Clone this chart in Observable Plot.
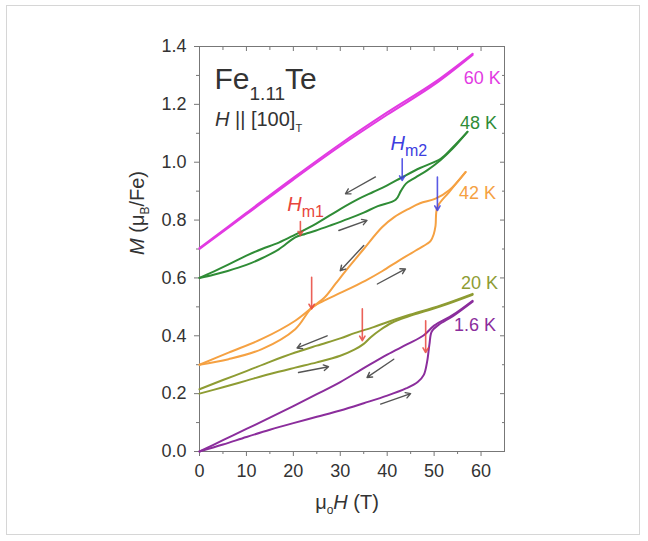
<!DOCTYPE html>
<html><head><meta charset="utf-8">
<script src="https://cdn.jsdelivr.net/npm/d3@7"></script>
<script src="https://cdn.jsdelivr.net/npm/@observablehq/plot@0.6"></script>
<style>
html,body{margin:0;padding:0;background:#fff;}
#wrap{position:relative;width:648px;height:541px;overflow:hidden;}
#wrap svg{position:absolute;left:0;top:0;}
#border{position:absolute;left:6px;top:5px;width:634px;height:530px;border:1px solid #d6d6d6;box-sizing:border-box;pointer-events:none;}
</style></head><body><div id="wrap"><div id="border"></div></div>
<script>
// ---- data ----
const temps = ["60 K", "48 K", "42 K", "20 K", "1.6 K"];
const colors = ["#e23ae2", "#2f8c36", "#f5a142", "#8e9c33", "#8b2d9c"];

const H60_up = [0, 10, 20, 30, 40, 50, 58.2];
const M60_up = [0.700, 0.820, 0.940, 1.056, 1.164, 1.268, 1.371];
const H60_dn = [58.2, 50, 40, 30, 20, 10, 0];
const M60_dn = [1.375, 1.275, 1.172, 1.063, 0.946, 0.825, 0.703];

const H48_up = [0, 3, 6, 10, 13.3, 16.9, 20.4, 22.5, 24.7, 28, 31.8, 35, 38, 41.8, 42.9, 44.0, 46, 48.5, 51.4, 54, 57.1];
const M48_up = [0.600, 0.611, 0.624, 0.645, 0.668, 0.699, 0.740, 0.752, 0.763, 0.782, 0.805, 0.826, 0.848, 0.870, 0.900, 0.926, 0.947, 0.972, 1.008, 1.048, 1.105];
const H48_dn = [57.1, 54, 51.4, 47, 43.2, 40, 37, 34, 30, 24.8, 20.4, 16.9, 13.3, 10, 6, 3, 0];
const M48_dn = [1.105, 1.052, 1.012, 0.980, 0.948, 0.920, 0.897, 0.874, 0.838, 0.787, 0.750, 0.722, 0.700, 0.677, 0.645, 0.622, 0.600];

const H42_up = [0, 6.2, 13.3, 20.4, 24, 27, 30, 35.4, 39, 42.5, 46, 48.5, 49.3, 49.9, 50.3, 50.7, 53.2, 56.7];
const M42_up = [0.300, 0.319, 0.354, 0.423, 0.498, 0.525, 0.548, 0.591, 0.624, 0.660, 0.694, 0.718, 0.729, 0.750, 0.780, 0.845, 0.897, 0.966];
const H42_dn = [56.7, 53.2, 50.3, 47, 44.6, 41.5, 38.9, 35, 31.8, 29, 26.8, 24, 20.4, 13.3, 6.2, 0];
const M42_dn = [0.966, 0.903, 0.874, 0.858, 0.839, 0.810, 0.775, 0.700, 0.637, 0.580, 0.535, 0.498, 0.452, 0.389, 0.342, 0.300];

const H20_up = [0, 5, 10, 15, 20.4, 25, 30, 33, 35, 36.5, 38.5, 41, 44.3, 51.4, 58.2];
const M20_up = [0.200, 0.222, 0.245, 0.268, 0.290, 0.308, 0.331, 0.352, 0.372, 0.395, 0.420, 0.445, 0.466, 0.502, 0.542];
const H20_dn = [58.2, 51.4, 44.3, 40, 37.1, 33.2, 30, 25, 20.4, 15, 10, 5, 0];
const M20_dn = [0.545, 0.505, 0.470, 0.447, 0.430, 0.410, 0.391, 0.366, 0.342, 0.310, 0.278, 0.247, 0.215];

const H16_up = [0, 5, 10, 15, 20, 25, 30, 35, 40, 44, 46.5, 47.8, 48.5, 49, 49.5, 51, 54, 58.2];
const M16_up = [0, 0.024, 0.050, 0.075, 0.098, 0.120, 0.142, 0.167, 0.193, 0.218, 0.240, 0.265, 0.310, 0.370, 0.415, 0.438, 0.468, 0.518];
const H16_dn = [58.2, 54, 50, 47.8, 44.3, 40, 35, 30, 25, 20, 15, 10, 5, 0];
const M16_dn = [0.521, 0.472, 0.435, 0.402, 0.371, 0.335, 0.288, 0.240, 0.198, 0.157, 0.117, 0.078, 0.039, 0];

// sweep-direction arrows (tail -> head)
const sweepX1 = [37.5, 29.7, 35.0, 37.9, 27.2, 21.1, 41.4, 38.6];
const sweepY1 = [0.949, 0.764, 0.712, 0.579, 0.400, 0.273, 0.319, 0.164];
const sweepX2 = [31.1, 35.7, 30.0, 43.9, 20.8, 27.5, 35.7, 45.0];
const sweepY2 = [0.891, 0.799, 0.625, 0.631, 0.358, 0.293, 0.256, 0.200];

// transition markers (vertical arrows)
const markH = [21.5, 23.9, 34.7, 48.2, 43.2, 50.7];
const markTop = [0.795, 0.602, 0.493, 0.452, 1.012, 0.949];
const markBot = [0.747, 0.493, 0.383, 0.342, 0.937, 0.833];
const markKind = ["Hm1", "Hm1", "Hm1", "Hm1", "Hm2", "Hm2"];

// temperature labels
const tempLabelX = [64.2, 63.4, 63.2, 63.6, 63.2];
const tempLabelY = [1.29, 1.135, 0.894, 0.582, 0.438];

// axis ticks
const xMajor = [0, 10, 20, 30, 40, 50, 60];
const xMinor = [5, 15, 25, 35, 45, 55];
const yMajor = [0, 0.2, 0.4, 0.6, 0.8, 1.0, 1.2, 1.4];
const yMinor = [0.1, 0.3, 0.5, 0.7, 0.9, 1.1, 1.3];

// rich text labels
const titleParts = [{t: "Fe"}, {t: "1.11", sub: 11, size: 19}, {t: "Te"}];
const subtitleParts = [{t: "H", i: true}, {t: " || [100]"}, {t: "T", sub: 6, size: 11}];
const hm1Parts = [{t: "H", i: true}, {t: "m1", sub: 6, size: 16}];
const hm2Parts = [{t: "H", i: true}, {t: "m2", sub: 6, size: 16}];
const yLabelParts = [{t: "M", i: true}, {t: " (μ"}, {t: "B", sub: 5, size: 12}, {t: "/Fe)"}];
const xLabelParts = [{t: "μ"}, {t: "o", sub: 5, size: 12}, {t: "H", i: true}, {t: " (T)"}];

// ---- build ----
const rows = [];
function addBranch(temp, branch, H, M) { H.forEach((h, i) => rows.push({temp, branch, H: h, M: M[i]})); }
addBranch("60 K", "up", H60_up, M60_up); addBranch("60 K", "dn", H60_dn, M60_dn);
addBranch("48 K", "up", H48_up, M48_up); addBranch("48 K", "dn", H48_dn, M48_dn);
addBranch("42 K", "up", H42_up, M42_up); addBranch("42 K", "dn", H42_dn, M42_dn);
addBranch("20 K", "up", H20_up, M20_up); addBranch("20 K", "dn", H20_dn, M20_dn);
addBranch("1.6 K", "up", H16_up, M16_up); addBranch("1.6 K", "dn", H16_dn, M16_dn);

const sweeps = sweepX1.map((x, i) => ({x1: x, y1: sweepY1[i], x2: sweepX2[i], y2: sweepY2[i]}));
const marks = markH.map((h, i) => ({h, top: markTop[i], bot: markBot[i], kind: markKind[i]}));
const tlabels = temps.map((t, i) => ({t, x: tempLabelX[i], y: tempLabelY[i]}));
const plain = parts => parts.map(p => p.t).join("");

const axisColor = "#777";
const textColor = "#333";

const chart = Plot.plot({
  width: 648, height: 541,
  marginLeft: 199, marginRight: 144, marginTop: 46, marginBottom: 90,
  x: {domain: [0, 65]},
  y: {domain: [0, 1.4]},
  color: {domain: temps, range: colors},
  style: {fontFamily: "'Liberation Sans', Arial, sans-serif", background: "transparent", color: textColor},
  marks: [
    Plot.axisX(xMajor, {tickSize: 5, tickPadding: 8, fontSize: 18, stroke: axisColor, fill: textColor, label: null, tickFormat: d => d}),
    Plot.axisX(xMinor, {tickSize: 3, stroke: axisColor, fill: "none", label: null}),
    Plot.axisX(xMajor, {anchor: "top", tickSize: -4, stroke: axisColor, fill: "none", label: null}),
    Plot.axisX(xMinor, {anchor: "top", tickSize: -3, stroke: axisColor, fill: "none", label: null}),
    Plot.axisY(yMajor, {tickSize: 5, tickPadding: 8, fontSize: 18, stroke: axisColor, fill: textColor, label: null, tickFormat: d => d.toFixed(1)}),
    Plot.axisY(yMinor, {tickSize: 3, stroke: axisColor, fill: "none", label: null}),
    Plot.axisY(yMajor, {anchor: "right", tickSize: -5, stroke: axisColor, fill: "none", label: null}),
    Plot.axisY(yMinor, {anchor: "right", tickSize: -3, stroke: axisColor, fill: "none", label: null}),
    Plot.frame({stroke: axisColor, strokeWidth: 1}),
    Plot.line(rows, {x: "H", y: "M", z: d => d.temp + d.branch, stroke: "temp", strokeWidth: 2, curve: "catmull-rom"}),
    Plot.arrow(sweeps, {x1: "x1", y1: "y1", x2: "x2", y2: "y2", stroke: "#555", strokeWidth: 1.4, headLength: 6}),
    Plot.arrow(marks, {x1: "h", x2: "h", y1: "top", y2: "bot", stroke: d => d.kind === "Hm1" ? "#e8453c" : "#3d3de0", strokeOpacity: 0.85, strokeWidth: 1.6, headLength: 5}),
    Plot.text(tlabels, {x: "x", y: "y", text: "t", fill: "t", textAnchor: "end", fontSize: 18}),
    Plot.text([plain(titleParts)], {x: 3.2, y: 1.287, text: d => d, textAnchor: "start", fontSize: 30, fill: textColor}),
    Plot.text([plain(subtitleParts)], {x: 3.3, y: 1.149, text: d => d, textAnchor: "start", fontSize: 20, fill: textColor}),
    Plot.text([plain(hm1Parts)], {x: 18.7, y: 0.854, text: d => d, textAnchor: "start", fontSize: 20, fill: "#e8453c"}),
    Plot.text([plain(hm2Parts)], {x: 40.7, y: 1.064, text: d => d, textAnchor: "start", fontSize: 20, fill: "#3d3de0"}),
    Plot.text([plain(yLabelParts)], {frameAnchor: "left", rotate: -90, dx: -62, dy: 6, text: d => d, fontSize: 20, fill: textColor}),
    Plot.text([plain(xLabelParts)], {frameAnchor: "bottom", lineAnchor: "top", dx: -5, dy: 43, text: d => d, fontSize: 20, fill: textColor})
  ]
});
document.getElementById("wrap").prepend(chart);

function rich(parts) {
  const s = plain(parts);
  d3.select(chart).selectAll("text").filter(function () { return this.textContent === s && this.children.length === 0; }).each(function () {
    const el = d3.select(this);
    el.text("");
    let cur = 0;
    parts.forEach(p => {
      const ts = el.append("tspan").text(p.t);
      const target = p.sub || 0;
      if (target !== cur) ts.attr("dy", target - cur);
      cur = target;
      if (p.i) ts.attr("font-style", "italic");
      if (p.size) ts.attr("font-size", p.size);
    });
  });
}
[titleParts, subtitleParts, hm1Parts, hm2Parts, yLabelParts, xLabelParts].forEach(rich);
</script>
</body></html>
